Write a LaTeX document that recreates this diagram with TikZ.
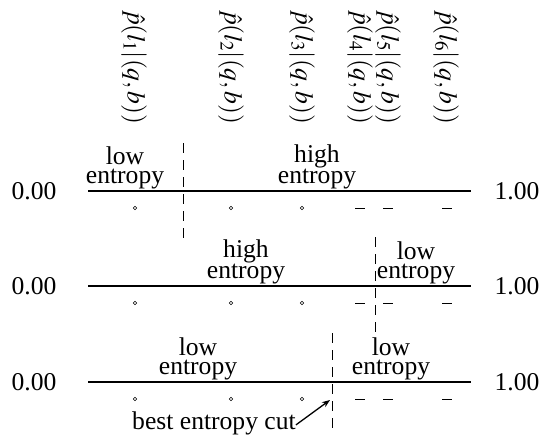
\documentclass[tikz,border=0pt]{standalone}
\usepackage{mathptmx}
\usepackage{fontspec}
\setmainfont{Liberation Serif}
\usetikzlibrary{arrows.meta}
\begin{document}
\begin{tikzpicture}[x=1pt,y=-1pt,
  bigfont/.style={font=\fontsize{25.6}{19}\selectfont},
  lbl/.style={bigfont,rotate=-90,anchor=west,inner sep=0pt},
  ent/.style={bigfont,align=center,anchor=south,inner sep=0pt},
  num/.style={bigfont,inner sep=0pt},
  axis/.style={line width=2pt},
  cutline/.style={line width=0.7pt,dash pattern=on 10pt off 7pt},
  circmark/.style={circle,draw,line width=0.5pt,inner sep=0pt,minimum size=3.6pt},
  dashmark/.style={line width=0.8pt}]
\useasboundingbox (0,0) rectangle (543,441);
% column labels
\foreach \x/\i in {134/1,231/2,302/3,360/4,388/5,446/6}
  \node[lbl] (lab\i) at (\x,10) {$\hat{p}(l_{\i}|(q,b))$};
% three axes
\foreach \k/\y in {1/191,2/286,3/382}{
  \node[num] (zero\k) at (34,\y) {0.00};
  \node[num] (one\k) at (517,\y) {1.00};
  \coordinate (a\k) at (88,\y);
  \coordinate (b\k) at (471,\y);
  \draw[axis] (a\k) -- (b\k);
  \foreach \x/\j in {135/1,231/2,302/3}
    \node[circmark] (c\k\j) at (\x,\y+17) {};
  \foreach \x/\j in {360/4,388/5,447/6}{
    \coordinate (dl\k\j) at (\x-5,\y+17);
    \coordinate (dr\k\j) at (\x+5,\y+17);
    \draw[dashmark] (dl\k\j) -- (dr\k\j);
  }
}
% cuts
\coordinate (t1) at (183,143); \coordinate (u1) at (183,242);
\coordinate (t2) at (375,237); \coordinate (u2) at (375,334);
\coordinate (t3) at (332,333); \coordinate (u3) at (332,431);
\foreach \k in {1,2,3} \draw[cutline] (t\k) -- (u\k);
% entropy labels
\node[ent] (e11) at (125,189) {low\\entropy};
\node[ent] (e12) at (317,189) {high\\entropy};
\node[ent] (e21) at (246,284) {high\\entropy};
\node[ent] (e22) at (416,284) {low\\entropy};
\node[ent] (e31) at (198,380) {low\\entropy};
\node[ent] (e32) at (391,380) {low\\entropy};
% best cut
\node[bigfont,anchor=base,inner sep=0pt] (best) at (214,429) {best entropy cut};
\coordinate (tip) at (330,400);
\draw[line width=1.3pt,-{Stealth[length=8pt,width=6pt]}] (best.east) ++(0pt,-2pt) -- (tip);
\end{tikzpicture}
\end{document}
